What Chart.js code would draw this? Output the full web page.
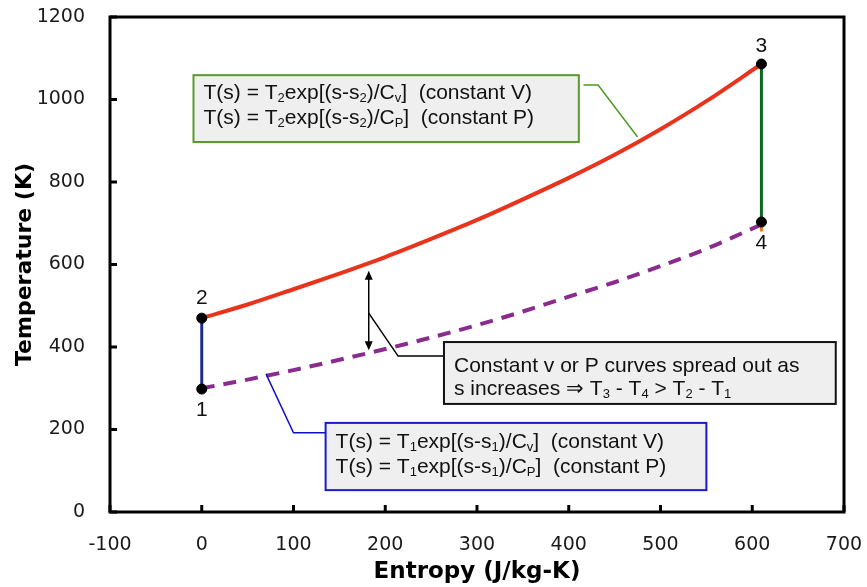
<!DOCTYPE html>
<html>
<head>
<meta charset="utf-8">
<script src="https://cdn.jsdelivr.net/npm/chart.js@4.4.1/dist/chart.umd.min.js"></script>
<style>
  html, body { margin: 0; padding: 0; background: #fff; }
  #wrap { width: 867px; height: 587px; }
</style>
</head>
<body>
<div id="wrap"><canvas id="chart" width="867" height="587"></canvas></div>
<script>
// entropy (J/kg-K) sampled along the two curves
var entropy = [0, 50, 100, 150, 200, 250, 300, 350, 400, 450, 500, 550, 610];
// curve through states 2 -> 3
var tHigh = [470, 503, 540, 578, 618, 662, 708, 758, 810, 866, 928, 996, 1086];
// curve through states 1 -> 4 (dashed)
var tLow = [300, 321, 344, 369, 395, 423, 453, 486, 522, 557, 596, 638, 697];
// state points
var stateLabels = ['1', '2', '3', '4'];
var stateS = [0, 0, 610, 610];
var stateT = [298, 470, 1086, 703];
// short orange stub under state 4
var stubT = [703, 680];
// tick labels
var xTicks = [-100, 0, 100, 200, 300, 400, 500, 600, 700];
var yTicks = [0, 200, 400, 600, 800, 1000, 1200];

function pts(xs, ys) {
    return xs.map(function(x, i) { return { x: x, y: ys[i] }; });
}

// text boxes, placed in data units
var boxes = [
    { s0: -9, s1: 411, t0: 1059, t1: 897, border: '#5b9b2b', dy: [24, 49],
      lines: ['T(s) = T_2exp[(s-s_2)/C_v]  (constant V)', 'T(s) = T_2exp[(s-s_2)/C_P]  (constant P)'] },
    { s0: 135, s1: 550, t0: 216, t1: 53, border: '#1a1acc', dy: [25, 50],
      lines: ['T(s) = T_1exp[(s-s_1)/C_v]  (constant V)', 'T(s) = T_1exp[(s-s_1)/C_P]  (constant P)'] },
    { s0: 264, s1: 691, t0: 412, t1: 262, border: '#111111', dy: [30, 53],
      lines: ['Constant v or P curves spread out as', 's increases \u21D2 T_3 - T_4 > T_2 - T_1'] }
];
var leaders = [
    { color: '#4e9a1e', path: [[416, 1035], [432, 1035], [475, 909]] },
    { color: '#1010cc', path: [[135, 192], [100, 192], [70, 335]] },
    { color: '#000000', path: [[182, 482], [214, 378], [264, 378]] }
];
var arrow = { s: 182, t0: 585, t1: 392 };
var labelOffsets = [21, -20, -18, 21];

function drawRich(ctx, str, x, y, size) {
    var cx = x, i = 0;
    while (i < str.length) {
        if (str[i] === '_') {
            ctx.font = Math.round(size * 0.62) + 'px "Liberation Sans", Arial, sans-serif';
            ctx.fillText(str[i + 1], cx, y + 3);
            cx += ctx.measureText(str[i + 1]).width;
            i += 2;
        } else {
            var j = str.indexOf('_', i);
            if (j < 0) j = str.length;
            var run = str.substring(i, j);
            ctx.font = size + 'px "Liberation Sans", Arial, sans-serif';
            ctx.fillText(run, cx, y);
            cx += ctx.measureText(run).width;
            i = j;
        }
    }
}

var extras = {
    id: 'extras',
    afterDraw: function(chart) {
        var ctx = chart.ctx, xs = chart.scales.x, ys = chart.scales.y, a = chart.chartArea;
        function px(s) { return xs.getPixelForValue(s); }
        function py(t) { return ys.getPixelForValue(t); }
        ctx.save();

        // inward ticks
        ctx.strokeStyle = '#000';
        ctx.lineWidth = 3;
        xTicks.forEach(function(v) {
            var x = px(v);
            ctx.beginPath(); ctx.moveTo(x, a.bottom); ctx.lineTo(x, a.bottom - 7); ctx.stroke();
        });
        yTicks.forEach(function(v) {
            var y = py(v);
            ctx.beginPath(); ctx.moveTo(a.left, y); ctx.lineTo(a.left + 7, y); ctx.stroke();
        });
        // frame
        ctx.lineWidth = 3;
        ctx.strokeRect(a.left, a.top, a.right - a.left, a.bottom - a.top);

        // leader lines
        ctx.lineWidth = 1.5;
        leaders.forEach(function(l) {
            ctx.strokeStyle = l.color;
            ctx.beginPath();
            l.path.forEach(function(p, i) {
                if (i === 0) ctx.moveTo(px(p[0]), py(p[1])); else ctx.lineTo(px(p[0]), py(p[1]));
            });
            ctx.stroke();
        });

        // double arrow
        var ax = px(arrow.s), ay0 = py(arrow.t0), ay1 = py(arrow.t1);
        ctx.strokeStyle = '#000'; ctx.fillStyle = '#000'; ctx.lineWidth = 1.5;
        ctx.beginPath(); ctx.moveTo(ax, ay0 + 6); ctx.lineTo(ax, ay1 - 6); ctx.stroke();
        ctx.beginPath(); ctx.moveTo(ax, ay0); ctx.lineTo(ax - 4, ay0 + 9); ctx.lineTo(ax + 4, ay0 + 9); ctx.closePath(); ctx.fill();
        ctx.beginPath(); ctx.moveTo(ax, ay1); ctx.lineTo(ax - 4, ay1 - 9); ctx.lineTo(ax + 4, ay1 - 9); ctx.closePath(); ctx.fill();

        // boxes
        boxes.forEach(function(b) {
            var x0 = px(b.s0), x1 = px(b.s1), y0 = py(b.t0), y1 = py(b.t1);
            ctx.fillStyle = '#efefef';
            ctx.fillRect(x0, y0, x1 - x0, y1 - y0);
            ctx.strokeStyle = b.border; ctx.lineWidth = 2;
            ctx.strokeRect(x0, y0, x1 - x0, y1 - y0);
            ctx.fillStyle = '#111';
            ctx.textAlign = 'left'; ctx.textBaseline = 'alphabetic';
            b.lines.forEach(function(line, i) { drawRich(ctx, line, x0 + 10, y0 + b.dy[i], 21); });
        });

        // state labels
        ctx.fillStyle = '#111';
        ctx.font = '21px "Liberation Sans", Arial, sans-serif';
        ctx.textAlign = 'center'; ctx.textBaseline = 'middle';
        stateLabels.forEach(function(lab, i) {
            ctx.fillText(lab, px(stateS[i]), py(stateT[i]) + labelOffsets[i]);
        });
        ctx.restore();
    }
};

var tickFont = { family: 'DejaVu Sans', size: 19 };

new Chart(document.getElementById('chart').getContext('2d'), {
    type: 'scatter',
    data: {
        datasets: [
            { data: pts(stateS, stateT), showLine: false, pointRadius: 5, pointHoverRadius: 5,
              pointBackgroundColor: '#000', pointBorderColor: '#000' },
            { data: pts([stateS[0], stateS[1]], [stateT[0], stateT[1]]), showLine: true,
              borderColor: '#1c2c8c', borderWidth: 3, pointRadius: 0 },
            { data: pts([stateS[2], stateS[3]], [stateT[2], stateT[3]]), showLine: true,
              borderColor: '#0b6a1f', borderWidth: 3, pointRadius: 0 },
            { data: pts([stateS[3], stateS[3]], stubT), showLine: true,
              borderColor: '#f07a1a', borderWidth: 3, pointRadius: 0 },
            { data: pts(entropy, tHigh), showLine: true, borderColor: '#e8341c', borderWidth: 4,
              pointRadius: 0, cubicInterpolationMode: 'monotone' },
            { data: pts(entropy, tLow), showLine: true, borderColor: '#8a2c8e', borderWidth: 4,
              borderDash: [13, 9], pointRadius: 0, cubicInterpolationMode: 'monotone' }
        ]
    },
    options: {
        responsive: false,
        animation: false,
        devicePixelRatio: 1,
        layout: { padding: { top: 17, right: 23, left: 0, bottom: 0 } },
        plugins: { legend: { display: false }, tooltip: { enabled: false } },
        scales: {
            x: {
                min: -100, max: 700,
                afterBuildTicks: function(s) { s.ticks = xTicks.map(function(v) { return { value: v }; }); },
                afterFit: function(s) { s.height = 75; s.paddingLeft = 0; s.paddingRight = 0; },
                grid: { display: false },
                border: { display: false },
                ticks: { font: tickFont, color: '#1a1a1a', padding: 14, maxRotation: 0,
                         callback: function(v) { return String(v); } },
                title: { display: true, text: 'Entropy (J/kg-K)', color: '#000',
                         font: { family: 'DejaVu Sans', size: 23, weight: 'bold' }, padding: { top: 0, bottom: 1 } }
            },
            y: {
                min: 0, max: 1200,
                afterBuildTicks: function(s) { s.ticks = yTicks.map(function(v) { return { value: v }; }); },
                afterFit: function(s) { s.width = 110; s.paddingTop = 0; s.paddingBottom = 0; },
                grid: { display: false },
                border: { display: false },
                ticks: { font: tickFont, color: '#1a1a1a', padding: 17,
                         callback: function(v) { return String(v); } },
                title: { display: true, text: 'Temperature (K)', color: '#000',
                         font: { family: 'DejaVu Sans', size: 22, weight: 'bold' }, padding: { top: 12, bottom: 0 } }
            }
        }
    },
    plugins: [extras]
});
</script>
</body>
</html>
